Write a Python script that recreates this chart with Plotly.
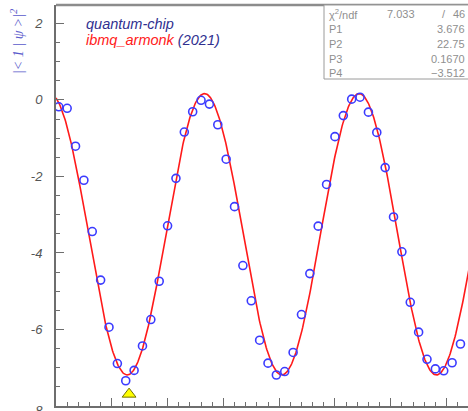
import numpy as np
import plotly.graph_objects as go

# ---------------- data ----------------
x_vals = [0.5, 2.0, 3.5, 5.0, 6.5, 8.0, 9.5, 11.0, 12.5, 14.0,
          15.5, 17.0, 18.5, 20.0, 21.5, 23.0, 24.5, 26.0, 27.5, 29.0,
          30.5, 32.0, 33.5, 35.0, 36.5, 38.0, 39.5, 41.0, 42.5, 44.0,
          45.5, 47.0, 48.5, 50.0, 51.5, 53.0, 54.5, 56.0, 57.5, 59.0,
          60.5, 62.0, 63.5, 65.0, 66.5, 68.0, 69.5, 71.0, 72.5, 74.0]
y_vals = [-0.18, -0.22, -1.21, -2.10, -3.44, -4.71, -5.94, -6.89, -7.34, -7.07,
          -6.43, -5.74, -4.74, -3.29, -2.05, -0.84, -0.31, -0.01, -0.11, -0.65,
          -1.55, -2.79, -4.33, -5.25, -6.28, -6.88, -7.19, -7.10, -6.60, -5.61,
          -4.54, -3.30, -2.21, -0.96, -0.41, 0.02, 0.07, -0.32, -0.85, -1.77,
          -3.06, -3.97, -5.29, -6.07, -6.78, -7.03, -7.08, -6.87, -6.38, -5.45]

# fit parameters (stats box) and curve shape
P1, P2, P3, P4 = 3.676, 22.75, 0.1670, -3.512
chi2, ndf = 7.033, 46
fit_period = 27.72     # in plotted x units
fit_min_x = 12.76

marker_x = [13.1]
marker_y = [-7.69]

y_tick_vals = [2, 0, -2, -4, -6]
y_tick_text = ["2", "0", "-2", "-4", "-6"]

stats_labels = ["χ<sup>2</sup>/ndf", "P1", "P2", "P3", "P4"]
stats_values = [f"{ndf}", f"{P1:.3f}", f"{P2:.2f}", f"{P3:.4f}", f"\u2212{abs(P4):.3f}"]

# ---------------- layout geometry ----------------
W, H = 468, 411
ML, MR, MT, MB = 56, 0, 5, 5
PW, PH = W - ML - MR, H - MT - MB


def px(xp):
    return (xp - ML) / PW


def py(yp):
    return (H - MB - yp) / PH


xcurve = np.linspace(0, 74, 600)
ycurve = P4 - P1 * np.cos(2 * np.pi * (xcurve - fit_min_x) / fit_period)

fig = go.Figure()
fig.add_trace(go.Scatter(x=xcurve, y=ycurve, mode="lines",
                         line=dict(color="#ff1a1a", width=1.6), hoverinfo="skip"))
fig.add_trace(go.Scatter(x=x_vals, y=y_vals, mode="markers", cliponaxis=False,
                         marker=dict(symbol="circle-open", size=8, color="#3b3bff",
                                     line=dict(color="#3b3bff", width=1.6))))
fig.add_trace(go.Scatter(x=marker_x, y=marker_y, mode="markers",
                         marker=dict(symbol="triangle-up", size=12, color="#ffff00",
                                     line=dict(color="#707000", width=1))))

axis_col = "#6e6e6e"
fig.update_xaxes(range=[0, 73.85], showgrid=False, zeroline=False,
                 showline=True, linecolor=axis_col, linewidth=2,
                 ticks="inside", ticklen=8, tickcolor=axis_col, tickwidth=1,
                 tick0=0, dtick=10, showticklabels=False,
                 minor=dict(ticks="inside", ticklen=4, dtick=2, tickcolor=axis_col, tickwidth=1))
fig.update_yaxes(range=[-8, 2.48], showgrid=False, zeroline=False,
                 showline=True, linecolor=axis_col, linewidth=2,
                 ticks="inside", ticklen=8, tickcolor=axis_col, tickwidth=1,
                 tickvals=y_tick_vals, ticktext=y_tick_text,
                 tickfont=dict(family="Liberation Sans", size=13, color="#555555", style="italic"),
                 ticklabelstandoff=9,
                 minor=dict(ticks="inside", ticklen=4, dtick=0.5, tickcolor=axis_col, tickwidth=1))

shapes = [
    dict(type="line", xref="paper", yref="paper", x0=0, x1=1.01, y0=1, y1=1,
         line=dict(color="#8c8c8c", width=2.5)),
    dict(type="rect", xref="paper", yref="paper", x0=px(324), x1=px(475), y0=py(79), y1=py(5),
         line=dict(color="#9a9a9a", width=1), fillcolor="white", layer="above"),
]

annotations = []
# legend-like texts
annotations.append(dict(xref="paper", yref="paper", x=px(84), y=py(24), xanchor="left", yanchor="middle",
                        text="quantum-chip", showarrow=False,
                        font=dict(family="Liberation Sans", size=14.5, color="#303090", style="italic")))
annotations.append(dict(xref="paper", yref="paper", x=px(84), y=py(40), xanchor="left", yanchor="middle",
                        text="<span style='color:#ff2020'>ibmq_armonk</span> (2021)", showarrow=False,
                        font=dict(family="Liberation Sans", size=14.5, color="#303090", style="italic")))
# y title
annotations.append(dict(xref="paper", yref="paper", x=px(17), y=py(42), xanchor="center", yanchor="middle",
                        text="|< 1 | ψ >|<sup>2</sup>", showarrow=False, textangle=-90,
                        font=dict(family="Liberation Serif", size=14, color="#5a5acc", style="italic")))
# partially hidden -8 label at the bottom edge
annotations.append(dict(xref="paper", yref="y", x=px(45), y=-8, xanchor="right", yanchor="top",
                        yshift=5, text="-8", showarrow=False,
                        font=dict(family="Liberation Sans", size=13, color="#555555", style="italic")))
# stats box texts
stat_font = dict(family="Liberation Sans", size=11, color="#8f8f8f")
row_y = [14, 29, 44, 59, 73]
for lab, val, ry in zip(stats_labels, stats_values, row_y):
    annotations.append(dict(xref="paper", yref="paper", x=px(327), y=py(ry), xanchor="left", yanchor="middle",
                            text=lab, showarrow=False, font=stat_font))
    annotations.append(dict(xref="paper", yref="paper", x=px(467), y=py(ry), xanchor="right", yanchor="middle",
                            text=val, showarrow=False, font=stat_font))
annotations.append(dict(xref="paper", yref="paper", x=px(417), y=py(row_y[0]), xanchor="right", yanchor="middle",
                        text=f"{chi2:.3f}", showarrow=False, font=stat_font))
annotations.append(dict(xref="paper", yref="paper", x=px(444), y=py(row_y[0]), xanchor="center", yanchor="middle",
                        text="/", showarrow=False, font=stat_font))

fig.update_layout(width=W, height=H, margin=dict(l=ML, r=MR, t=MT, b=MB),
                  paper_bgcolor="white", plot_bgcolor="white", showlegend=False,
                  shapes=shapes, annotations=annotations)

fig.write_html("out.html")
